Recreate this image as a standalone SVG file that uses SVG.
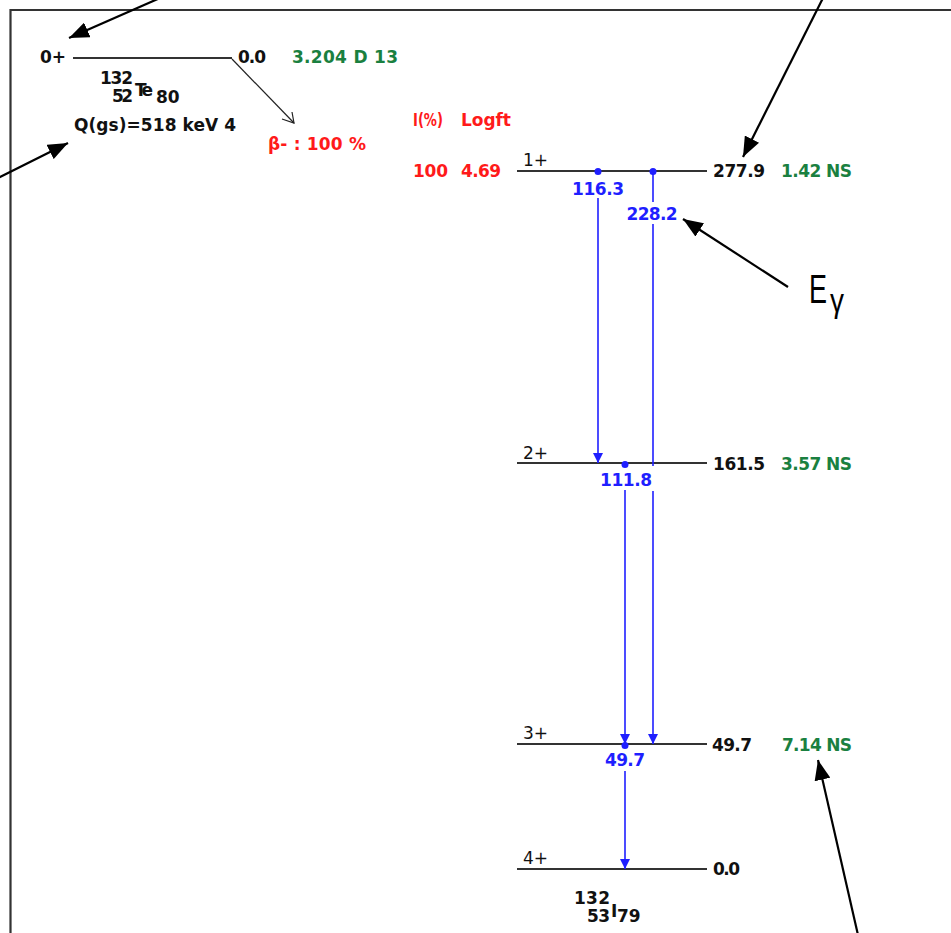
<svg xmlns="http://www.w3.org/2000/svg" width="951" height="933" viewBox="0 0 951 933">
<style>
.t{font-family:"DejaVu Sans",Verdana,sans-serif;font-weight:bold;font-size:17px}
.n{font-family:"DejaVu Sans",Verdana,sans-serif;font-weight:normal;font-size:17px;fill:#111}
.k{fill:#111}
.g{fill:#1a8040}
.r{fill:#ff1a1a}
.b{fill:#1f1fff}
.lvl{stroke:#333;stroke-width:2}
.gam{stroke:#1f1fff;stroke-width:1.6;fill:none}
.ann{stroke:#000;stroke-width:2.2;fill:none}
</style>
<defs>
<marker id="ga" viewBox="0 0 10 10" refX="10" refY="5" markerWidth="10" markerHeight="10" markerUnits="userSpaceOnUse" orient="auto"><path d="M0,0 L10,5 L0,10 z" fill="#1f1fff"/></marker>
<marker id="aa" viewBox="0 0 20 16" refX="20" refY="8" markerWidth="20" markerHeight="16" markerUnits="userSpaceOnUse" orient="auto"><path d="M0,0 L20,8 L0,16 z" fill="#000"/></marker>
</defs>
<rect width="951" height="933" fill="#fff"/>
<g id="frame" stroke="#333" stroke-width="2.2" fill="none">
<path d="M951,10 H10.5 V933"/>
</g>
<g id="parent">
<line class="lvl" x1="73" y1="58" x2="232" y2="58"/>
<text class="t k" x="40" y="63">0+</text>
<text class="t k" x="238" y="63" textLength="28">0.0</text>
<text class="t g" x="292" y="63" textLength="106">3.204 D 13</text>
<text class="t k" x="100" y="84" font-size="15" textLength="33">132</text>
<text class="t k" x="112" y="102" font-size="15" textLength="21">52</text>
<text class="t k" x="135" y="96" font-size="12" textLength="18">Te</text>
<text class="t k" x="156" y="103" font-size="13">80</text>
<text class="t k" x="74" y="131" textLength="162">Q(gs)=518 keV 4</text>
</g>
<g id="beta-label">
<text class="t r" x="268" y="150" textLength="98">β- : 100 %</text>
<text class="t r" x="413" y="126" textLength="30" lengthAdjust="spacingAndGlyphs">I(%)</text>
<text class="t r" x="461" y="126" textLength="50">Logft</text>
</g>
<g id="level-277.9">
<line class="lvl" x1="517" y1="171" x2="707" y2="171"/>
<text class="n" x="523" y="166">1+</text>
<text class="t k" x="713" y="177" textLength="52">277.9</text>
<text class="t g" x="781" y="177" textLength="71">1.42 NS</text>
<text class="t r" x="413" y="177" textLength="35">100</text>
<text class="t r" x="461" y="177" textLength="40">4.69</text>
</g>
<g id="level-161.5">
<line class="lvl" x1="517" y1="463" x2="707" y2="463"/>
<text class="n" x="523" y="459">2+</text>
<text class="t k" x="713" y="470" textLength="52">161.5</text>
<text class="t g" x="781" y="470" textLength="71">3.57 NS</text>
</g>
<g id="level-49.7">
<line class="lvl" x1="517" y1="744" x2="707" y2="744"/>
<text class="n" x="523" y="739">3+</text>
<text class="t k" x="712" y="751" textLength="40">49.7</text>
<text class="t g" x="782" y="751" textLength="70">7.14 NS</text>
</g>
<g id="level-0.0">
<line class="lvl" x1="517" y1="869" x2="707" y2="869"/>
<text class="n" x="523" y="864">4+</text>
<text class="t k" x="713" y="875" textLength="27">0.0</text>
<text class="t k" x="574" y="904" font-size="15" textLength="36">132</text>
<text class="t k" x="587" y="922" font-size="15" textLength="23">53</text>
<text class="t k" x="611" y="917" font-size="14">I</text>
<text class="t k" x="617" y="922" font-size="15">79</text>
</g>
<g id="egamma-label">
<text x="809" y="303" font-family="Liberation Sans,Arial,sans-serif" font-size="41" fill="#000" textLength="18" lengthAdjust="spacingAndGlyphs">E</text>
<text x="830" y="312" font-family="Liberation Sans,Arial,sans-serif" font-size="34" fill="#000" textLength="14" lengthAdjust="spacingAndGlyphs">γ</text>
</g>
<g id="connectors">
<path d="M232,59 L294,123" stroke="#222" stroke-width="1.2" fill="none"/>
<polyline points="282,119 294,123 292,112" stroke="#222" stroke-width="1.2" fill="none"/>
<g id="g116.3">
<circle cx="598" cy="171.5" r="3.5" fill="#1f1fff"/>
<line class="gam" x1="598" y1="198" x2="598" y2="463" marker-end="url(#ga)"/>
<text class="t b" x="598" y="195" text-anchor="middle" textLength="52">116.3</text>
</g>
<g id="g228.2">
<circle cx="653" cy="171.5" r="3.5" fill="#1f1fff"/>
<line class="gam" x1="653" y1="171" x2="653" y2="202"/>
<line class="gam" x1="653" y1="224" x2="653" y2="466"/>
<line class="gam" x1="653" y1="491" x2="653" y2="744" marker-end="url(#ga)"/>
<text class="t b" x="652" y="220" text-anchor="middle" textLength="51">228.2</text>
</g>
<g id="g111.8">
<circle cx="625" cy="464.5" r="3.5" fill="#1f1fff"/>
<line class="gam" x1="625" y1="490" x2="625" y2="744" marker-end="url(#ga)"/>
<text class="t b" x="626" y="486" text-anchor="middle" textLength="52">111.8</text>
</g>
<g id="g49.7">
<circle cx="625" cy="745.5" r="3.5" fill="#1f1fff"/>
<line class="gam" x1="625" y1="771" x2="625" y2="869" marker-end="url(#ga)"/>
<text class="t b" x="625" y="766" text-anchor="middle" textLength="40">49.7</text>
</g>
<line class="ann" x1="160" y1="-2" x2="69" y2="38" marker-end="url(#aa)"/>
<line class="ann" x1="-4" y1="179" x2="68" y2="143" marker-end="url(#aa)"/>
<line class="ann" x1="823" y1="-2" x2="743" y2="157" marker-end="url(#aa)"/>
<line class="ann" x1="788" y1="287" x2="683" y2="219" marker-end="url(#aa)"/>
<line class="ann" x1="858" y1="935" x2="818" y2="760" marker-end="url(#aa)"/>
</g>
</svg>
